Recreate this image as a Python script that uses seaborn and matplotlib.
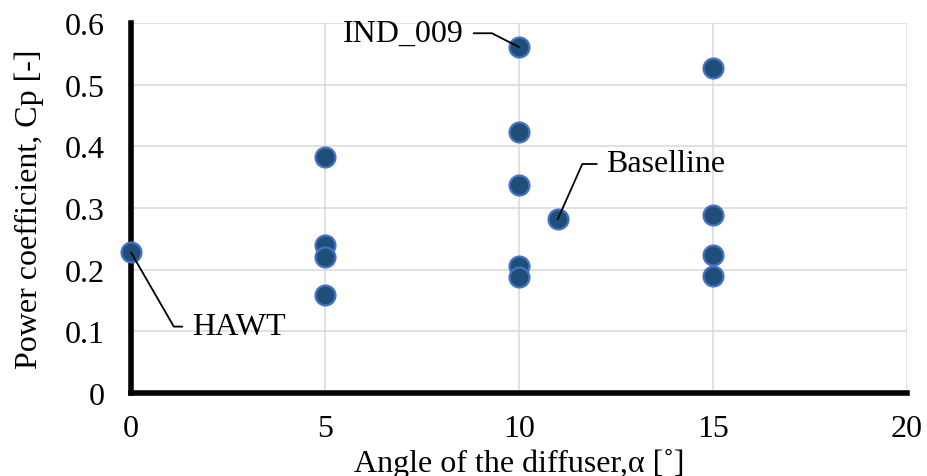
import matplotlib
matplotlib.use("Agg")
import matplotlib.pyplot as plt
import seaborn as sns
import pandas as pd

# ---- data ----
angle = [0, 5, 5, 5, 5, 10, 10, 10, 10, 10, 11, 15, 15, 15, 15]
cp = [0.228, 0.383, 0.240, 0.221, 0.159,
      0.561, 0.423, 0.337, 0.206, 0.188,
      0.282,
      0.527, 0.288, 0.223, 0.190]
x_ticks = [0, 5, 10, 15, 20]
y_ticks = [0, 0.1, 0.2, 0.3, 0.4, 0.5, 0.6]
y_tick_labels = ["0", "0.1", "0.2", "0.3", "0.4", "0.5", "0.6"]
# annotations: (label, x, y)
labels = [("HAWT", 0, 0.228), ("Baselline", 11, 0.282), ("IND_009", 10, 0.561)]

df = pd.DataFrame({"angle": angle, "cp": cp})

sns.set_theme(style="white")
plt.rcParams["font.family"] = ["Liberation Serif", "DejaVu Serif"]

FS = 23
fig = plt.figure(figsize=(9.27, 4.77), dpi=100)
ax = fig.add_axes([131 / 927, 1 - 394 / 477, 776 / 927, 370 / 477])

sns.scatterplot(data=df, x="angle", y="cp", ax=ax, s=205,
                color="#1F4E79", edgecolor="#4472C4", linewidth=1.6,
                zorder=3, clip_on=False, legend=False)

ax.set_xlim(0, 20)
ax.set_ylim(0, 0.6)
ax.set_xticks(x_ticks)
ax.set_xticklabels([str(t) for t in x_ticks])
ax.set_yticks(y_ticks)
ax.set_yticklabels(y_tick_labels)
ax.grid(True, color="#D9D9D9", linewidth=1.1, zorder=0)
ax.set_axisbelow(True)

for s in ["top", "right"]:
    ax.spines[s].set_visible(False)
for s in ["left", "bottom"]:
    ax.spines[s].set_color("black")
    ax.spines[s].set_linewidth(4)
    ax.spines[s].set_zorder(2)

ax.tick_params(axis="x", length=0, pad=15, labelsize=FS, labelcolor="black")
ax.tick_params(axis="y", length=0, pad=19, labelsize=FS, labelcolor="black")

ax.set_xlabel("Angle of the diffuser,α [˚]", fontsize=FS, color="black")
ax.set_ylabel("Power coefficient, Cp [-]", fontsize=FS, color="black")
ax.xaxis.set_label_coords(0.5, -0.148)
ax.yaxis.set_label_coords(-0.112, 0.5)

# leader-line annotations (Excel style: short horizontal then straight to point)
ann_style = {
    "HAWT": dict(off=(61, -81.7), ha="left", relpos=(0, 0.5), angB=-60),
    "Baselline": dict(off=(48.7, 47.6), ha="left", relpos=(0, 0.5), angB=66),
    "IND_009": dict(off=(-55, 6.3), ha="right", relpos=(1, 0.5), angB=153),
}
for name, xv, yv in labels:
    st = ann_style[name]
    ax.annotate(name, xy=(xv, yv), xytext=st["off"], textcoords="offset pixels",
                ha=st["ha"], va="baseline", fontsize=FS, color="black", zorder=5,
                annotation_clip=False,
                arrowprops=dict(arrowstyle="-", color="black", lw=1.3,
                                patchA=None, shrinkA=7, shrinkB=0, relpos=st["relpos"],
                                connectionstyle=f"angle,angleA=0,angleB={st['angB']},rad=0"))

fig.savefig("out.png", dpi=100)
